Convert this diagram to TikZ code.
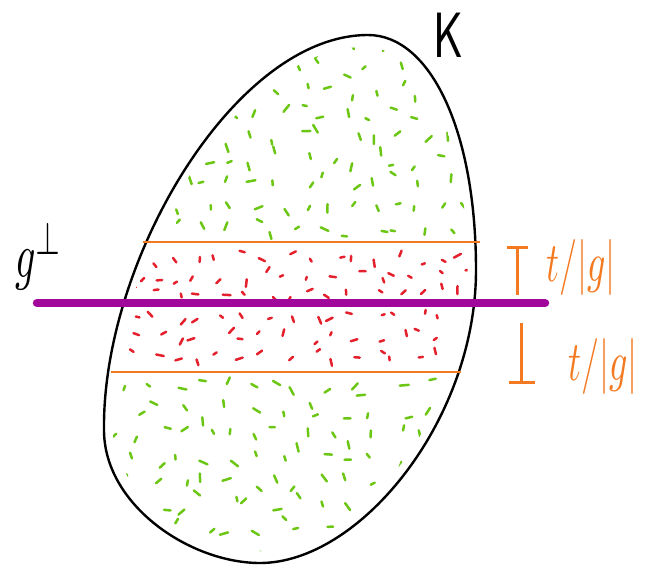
\documentclass[tikz,border=0pt]{standalone}
\usepackage{graphicx}
\definecolor{cpurple}{HTML}{A0079A}
\definecolor{corange}{HTML}{F47A22}
\definecolor{cgreen}{HTML}{6CC614}
\definecolor{cred}{HTML}{E4202C}
\tikzset{
  outline/.style={line width=2.4pt, black},
  gline/.style={line width=8.5pt, cpurple, line cap=round},
  oline/.style={line width=2.6pt, corange},
  obar/.style={line width=3pt, corange},
  greendash/.style={line width=2.5pt, cgreen, line cap=round},
  reddash/.style={line width=2.5pt, cred, line cap=round},
  olabel/.style={corange}
}
\def\eggpath{(368,35) .. controls (430,35) and (476,130) .. (476,270)
  .. controls (476,420) and (360,563) .. (260,563)
  .. controls (190,563) and (104,505) .. (104,430)
  .. controls (102,260) and (235,35) .. (368,35) -- cycle}
\begin{document}
\begin{tikzpicture}[x=1pt, y=-1pt]
\useasboundingbox (0,0) rectangle (645,566);
\pgfmathsetseed{4217}
% dashes
\begin{scope}
  \clip[shift={(290,300)}, scale=0.955, shift={(-290,-300)}] \eggpath;
  \foreach \gx in {110,134,...,475} {
    \foreach \gy in {45,68,...,230} {
      \pgfmathsetmacro\px{\gx+9*rand}
      \pgfmathsetmacro\py{\gy+8*rand}
      \pgfmathsetmacro\an{360*rnd}
      \pgfmathsetmacro\ln{4+5*rnd}
      \draw[greendash] (\px,\py) -- ++(\an:\ln);
    }
    \foreach \gy in {388,411,...,560} {
      \pgfmathsetmacro\px{\gx+9*rand}
      \pgfmathsetmacro\py{\gy+8*rand}
      \pgfmathsetmacro\an{360*rnd}
      \pgfmathsetmacro\ln{4+5*rnd}
      \draw[greendash] (\px,\py) -- ++(\an:\ln);
    }
  }
  \foreach \gx in {112,134,...,470} {
    \foreach \gy in {258,276,292,318,336,356} {
      \pgfmathsetmacro\px{\gx+9*rand}
      \pgfmathsetmacro\py{\gy+6*rand}
      \pgfmathsetmacro\an{360*rnd}
      \pgfmathsetmacro\ln{3+5*rnd}
      \draw[reddash] (\px,\py) -- ++(\an:\ln);
    }
  }
\end{scope}
% outline
\draw[outline] \eggpath;
% orange band lines
\coordinate (u1) at (143,242); \coordinate (u2) at (480,242);
\coordinate (l1) at (111,372); \coordinate (l2) at (461,372);
\draw[oline] (u1) -- (u2);
\draw[oline] (l1) -- (l2);
% purple line
\coordinate (g1) at (37,303); \coordinate (g2) at (545,303);
\draw[gline] (g1) -- (g2);
% orange markers
\coordinate (ta) at (517,247); \coordinate (tb) at (517,295);
\coordinate (tl) at (507,247); \coordinate (tr) at (528,247);
\draw[obar] (ta) -- (tb); \draw[obar] (tl) -- (tr);
\coordinate (ba) at (521,323); \coordinate (bb) at (521,382);
\coordinate (bl) at (509,382); \coordinate (br) at (535,382);
\draw[obar] (ba) -- (bb); \draw[obar] (bl) -- (br);
% labels
\node[olabel] (tu) at (581,267) {\scalebox{3.6}[5.6]{$t/|g|$}};
\node[olabel] (tlw) at (603,366) {\scalebox{3.6}[5.6]{$t/|g|$}};
\node (gp) at (39,257) {\scalebox{4}[6.4]{$g^{\perp}$}};
\node (K) at (448,35) {\scalebox{0.72}[1]{\fontsize{64}{64}\selectfont\sffamily K}};
\end{tikzpicture}
\end{document}
